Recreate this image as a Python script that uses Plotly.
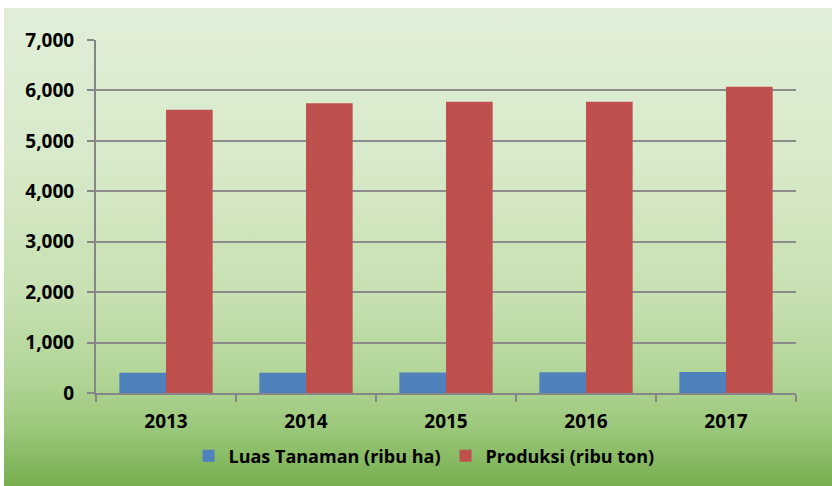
import base64
import plotly.graph_objects as go

years = ["2013", "2014", "2015", "2016", "2017"]
luas_tanaman = [401, 402, 407, 410, 418]
produksi = [5615, 5748, 5774, 5776, 6071]
series_names = ["Luas Tanaman (ribu ha)", "Produksi (ribu ton)"]
y_ticks = [0, 1000, 2000, 3000, 4000, 5000, 6000, 7000]

W, H = 832, 486
ML, MR, MT, MB = 96, 36, 40, 93
PW, PH = W - ML - MR, H - MT - MB

def px_x(p):
    return (p - ML) / PW

def px_y(p):
    return (H - MB - p) / PH

svg = (
    '<svg xmlns="http://www.w3.org/2000/svg" width="100" height="100" '
    'viewBox="0 0 100 100" preserveAspectRatio="none">'
    '<defs><linearGradient id="g" x1="0" y1="0" x2="0" y2="1">'
    '<stop offset="0" stop-color="#e0eed7"/>'
    '<stop offset="0.30" stop-color="#d8eacb"/>'
    '<stop offset="0.61" stop-color="#c6e0b1"/>'
    '<stop offset="0.78" stop-color="#b0d495"/>'
    '<stop offset="0.88" stop-color="#9bc77a"/>'
    '<stop offset="1" stop-color="#76ae4e"/>'
    '</linearGradient></defs>'
    '<rect x="0" y="0" width="100" height="100" fill="url(#g)"/></svg>'
)
src = "data:image/svg+xml;base64," + base64.b64encode(svg.encode()).decode()

font_fam = "'Open Sans', Lato, sans-serif"
tick_font = dict(family=font_fam, size=19, color="black", weight="bold")

fig = go.Figure()
fig.add_trace(go.Bar(x=years, y=luas_tanaman, name=series_names[0],
                     marker=dict(color="#4f81bd", line=dict(width=0))))
fig.add_trace(go.Bar(x=years, y=produksi, name=series_names[1],
                     marker=dict(color="#c0504d", line=dict(width=0))))

fig.update_layout(
    width=W, height=H,
    margin=dict(l=ML, r=MR, t=MT, b=MB, pad=0, autoexpand=False),
    paper_bgcolor="white",
    plot_bgcolor="rgba(0,0,0,0)",
    barmode="group",
    bargap=1/3,
    bargroupgap=0,
    font=tick_font,
    showlegend=True,
    legend=dict(orientation="h", x=px_x(424), xanchor="center",
                y=px_y(456), yanchor="middle",
                font=dict(family=font_fam, size=18, color="black", weight="bold"),
                bgcolor="rgba(0,0,0,0)", itemwidth=30, traceorder="normal"),
    images=[dict(source=src, xref="paper", yref="paper",
                 x=px_x(4), y=px_y(8), sizex=(W - 4) / PW, sizey=(H - 8) / PH,
                 xanchor="left", yanchor="top", sizing="stretch", layer="below")],
    xaxis=dict(type="category", showline=True, linecolor="#868686", linewidth=2,
               ticks="outside", tickson="boundaries", ticklen=7, tickwidth=2,
               tickcolor="#868686", showgrid=False,
               tickfont=tick_font, ticklabelstandoff=10),
    yaxis=dict(range=[0, 7000], tickvals=y_ticks, tickformat=",",
               showline=True, linecolor="#868686", linewidth=2,
               ticks="outside", ticklen=7, tickwidth=2, tickcolor="#868686",
               showgrid=True, gridcolor="#8c8c8c", gridwidth=2,
               zeroline=False,
               tickfont=tick_font, ticklabelstandoff=9),
)

fig.write_html("out.html", config={"displayModeBar": False},
               post_script="document.body.style.margin='0';document.body.style.overflow='hidden';")
